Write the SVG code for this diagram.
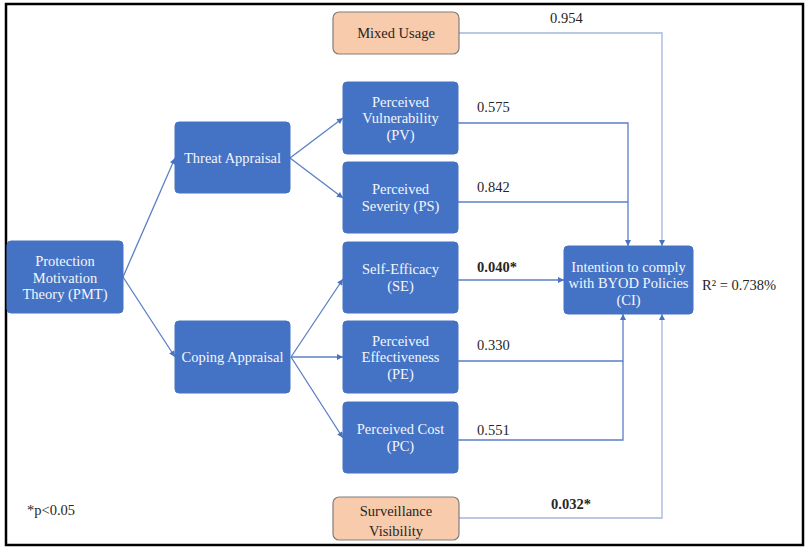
<svg xmlns="http://www.w3.org/2000/svg" width="806" height="548" viewBox="0 0 806 548">
<defs>
<style>
.blue{fill:#4472c4;stroke:#4472c4;stroke-width:1}
.peach{fill:#f8cbad;stroke:#7f7f7f;stroke-width:1.2}
.bt{font-family:"Liberation Serif","Times New Roman",serif;font-size:14.5px;fill:#f4f6fb;text-anchor:middle}
.pt{font-family:"Liberation Serif","Times New Roman",serif;font-size:14.5px;fill:#262626;text-anchor:middle}
.lbl{font-family:"Liberation Serif","Times New Roman",serif;font-size:14.5px;fill:#262626}
.b{font-weight:bold}
.c{fill:none;stroke:#5a7fc6;stroke-width:1.3}
.cl{fill:none;stroke:#a3b6dc;stroke-width:1.3}
</style>
<marker id="ah" viewBox="0 0 10 10" refX="10" refY="5" markerWidth="7" markerHeight="6" markerUnits="userSpaceOnUse" orient="auto">
<path d="M0,0 L10,5 L0,10 z" fill="#4a72c0"/>
</marker>
</defs>
<rect x="6" y="4" width="797" height="541" fill="#ffffff" stroke="#000000" stroke-width="2.5"/>

<g id="connectors">
<path class="c" d="M123,277 L175,158" marker-end="url(#ah)"/>
<path class="c" d="M123,277 L175,357" marker-end="url(#ah)"/>
<path class="c" d="M290,158 L343,118" marker-end="url(#ah)"/>
<path class="c" d="M290,158 L343,198" marker-end="url(#ah)"/>
<path class="c" d="M291,357 L343,279" marker-end="url(#ah)"/>
<path class="c" d="M291,357 L343,357" marker-end="url(#ah)"/>
<path class="c" d="M291,357 L343,438" marker-end="url(#ah)"/>
<path class="cl" d="M459,33 H662 V246" marker-end="url(#ah)"/>
<path class="c" d="M458,123 H628 V246" marker-end="url(#ah)"/>
<path class="c" d="M458,202 H628"/>
<path class="c" d="M458,280 H564" marker-end="url(#ah)"/>
<path class="c" d="M458,361 H623 V314" marker-end="url(#ah)"/>
<path class="c" d="M458,440 H623 V361"/>
<path class="cl" d="M459,518 H662 V314" marker-end="url(#ah)"/>
</g>

<g id="PMT">
<rect class="blue" x="7" y="241" width="116" height="72" rx="4"/>
<text class="bt" x="65" y="266">Protection</text>
<text class="bt" x="65" y="283">Motivation</text>
<text class="bt" x="65" y="299">Theory (PMT)</text>
</g>
<g id="TA">
<rect class="blue" x="175" y="122" width="115" height="71" rx="4"/>
<text class="bt" x="232.5" y="163">Threat Appraisal</text>
</g>
<g id="CA">
<rect class="blue" x="175" y="321" width="115" height="72" rx="4"/>
<text class="bt" x="232.5" y="362">Coping Appraisal</text>
</g>
<g id="MU">
<rect class="peach" x="333" y="12" width="126" height="42" rx="6"/>
<text class="pt" x="396" y="38">Mixed Usage</text>
</g>
<g id="PV">
<rect class="blue" x="343" y="82" width="115" height="72" rx="4"/>
<text class="bt" x="400.5" y="107">Perceived</text>
<text class="bt" x="400.5" y="123">Vulnerability</text>
<text class="bt" x="400.5" y="140">(PV)</text>
</g>
<g id="PS">
<rect class="blue" x="343" y="162" width="115" height="71" rx="4"/>
<text class="bt" x="400.5" y="194">Perceived</text>
<text class="bt" x="400.5" y="211">Severity (PS)</text>
</g>
<g id="SE">
<rect class="blue" x="343" y="242" width="115" height="71" rx="4"/>
<text class="bt" x="400.5" y="274">Self-Efficacy</text>
<text class="bt" x="400.5" y="291">(SE)</text>
</g>
<g id="PE">
<rect class="blue" x="343" y="321" width="115" height="72" rx="4"/>
<text class="bt" x="400.5" y="346">Perceived</text>
<text class="bt" x="400.5" y="362">Effectiveness</text>
<text class="bt" x="400.5" y="379">(PE)</text>
</g>
<g id="PC">
<rect class="blue" x="343" y="402" width="115" height="71" rx="4"/>
<text class="bt" x="400.5" y="434">Perceived Cost</text>
<text class="bt" x="400.5" y="451">(PC)</text>
</g>
<g id="SV">
<rect class="peach" x="333" y="497" width="126" height="43" rx="6"/>
<text class="pt" x="396" y="516">Surveillance</text>
<text class="pt" x="396" y="536">Visibility</text>
</g>
<g id="CI">
<rect class="blue" x="564" y="246" width="129" height="68" rx="4"/>
<text class="bt" x="628.5" y="272">Intention to comply</text>
<text class="bt" x="628.5" y="288">with BYOD Policies</text>
<text class="bt" x="628.5" y="305">(CI)</text>
</g>

<g id="labels">
<text class="lbl" x="550" y="23">0.954</text>
<text class="lbl" x="477" y="112">0.575</text>
<text class="lbl" x="477" y="192">0.842</text>
<text class="lbl b" x="477" y="272">0.040*</text>
<text class="lbl" x="477" y="350">0.330</text>
<text class="lbl" x="477" y="435">0.551</text>
<text class="lbl b" x="551" y="509">0.032*</text>
<text class="lbl" x="702" y="290">R² = 0.738%</text>
<text class="lbl" x="27" y="515">*p&lt;0.05</text>
</g>
</svg>
